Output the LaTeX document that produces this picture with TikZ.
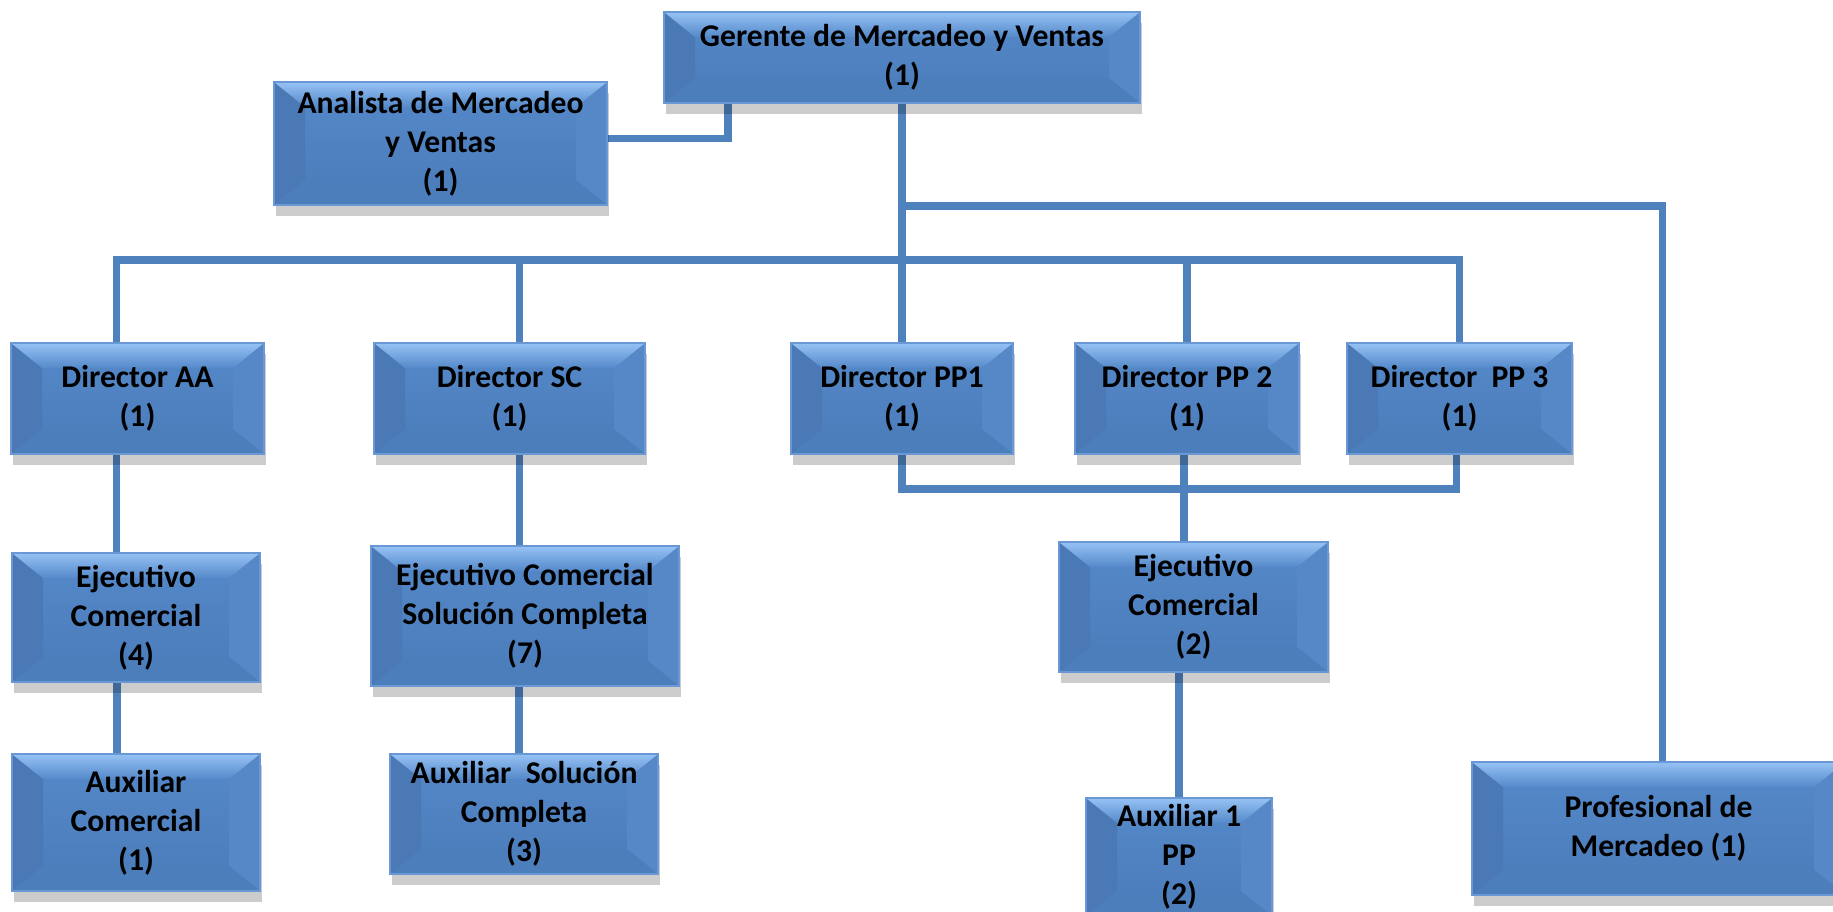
\documentclass[tikz,border=0pt]{standalone}
\usepackage{fontspec}
\setmainfont{Carlito}
\usetikzlibrary{shadows}
\pgfdeclarelayer{bg}
\pgfsetlayers{bg,main}
\definecolor{boxface}{RGB}{79,129,189}
\definecolor{facetop}{RGB}{85,137,201}
\definecolor{facebot}{RGB}{75,123,185}
\definecolor{bevtop}{RGB}{150,194,245}
\definecolor{bevleft}{RGB}{74,121,182}
\definecolor{bevright}{RGB}{86,136,199}
\definecolor{bevbot}{RGB}{77,126,188}
\definecolor{edgeblue}{RGB}{105,152,212}
\definecolor{linkblue}{RGB}{79,129,189}
\newlength{\bevx}
\newlength{\bevy}
\setlength{\bevx}{3.1mm}
\setlength{\bevy}{2.5mm}
\tikzset{
  orgbox/.style={fill=boxface, draw=edgeblue, line width=0.4pt, inner sep=0pt,
    align=center, font=\fontsize{9}{11.1}\selectfont\bfseries,
    drop shadow={shadow xshift=0.15mm, shadow yshift=-1.1mm, opacity=0.2, fill=black},
    path picture={
      \coordinate (pnw) at (path picture bounding box.north west);
      \coordinate (pne) at (path picture bounding box.north east);
      \coordinate (psw) at (path picture bounding box.south west);
      \coordinate (pse) at (path picture bounding box.south east);
      \shade[top color=facetop, bottom color=facebot] (pnw) rectangle (pse);
      \fill[bevleft] (pnw) -- ([shift={(\bevx,-\bevy)}]pnw) -- ([shift={(\bevx,\bevy)}]psw) -- (psw) -- cycle;
      \fill[bevright] (pne) -- ([shift={(-\bevx,-\bevy)}]pne) -- ([shift={(-\bevx,\bevy)}]pse) -- (pse) -- cycle;
      \fill[bevbot] (psw) -- ([shift={(\bevx,\bevy)}]psw) -- ([shift={(-\bevx,\bevy)}]pse) -- (pse) -- cycle;
      \shade[top color=bevtop, bottom color=facetop] (pnw) -- (pne) -- ([shift={(-\bevx,-\bevy)}]pne) -- ([shift={(\bevx,-\bevy)}]pnw) -- cycle;
    }},
  link/.style={draw=linkblue, line width=2.1pt}
}

\begin{document}
\begin{tikzpicture}
        \useasboundingbox (0,0) rectangle (18.33,-9.11);
        \clip (0,0) rectangle (18.33,-9.11);
        % top
        \node (v0) [orgbox, minimum width=4.76cm, minimum height=0.91cm] at (9.020000cm, -0.575000cm) {Gerente de Mercadeo y Ventas\\(1)};
        \node (v1) [orgbox, minimum width=3.33cm, minimum height=1.23cm] at (4.405000cm, -1.435000cm) {Analista de Mercadeo\\y Ventas\\(1)};
        % directores
        \node (v2) [orgbox, minimum width=2.53cm, minimum height=1.11cm] at (1.375000cm, -3.985000cm) {Director AA\\(1)};
        \node (v3) [orgbox, minimum width=2.71cm, minimum height=1.11cm] at (5.095000cm, -3.985000cm) {Director SC\\(1)};
        \node (v4) [orgbox, minimum width=2.22cm, minimum height=1.11cm] at (9.020000cm, -3.985000cm) {Director PP1\\(1)};
        \node (v5) [orgbox, minimum width=2.24cm, minimum height=1.11cm] at (11.870000cm, -3.985000cm) {Director PP 2\\(1)};
        \node (v6) [orgbox, minimum width=2.25cm, minimum height=1.11cm] at (14.595000cm, -3.985000cm) {Director\ \ PP 3\\(1)};
        % ejecutivos
        \node (v7) [orgbox, minimum width=2.48cm, minimum height=1.29cm] at (1.360000cm, -6.175000cm) {Ejecutivo\\Comercial\\(4)};
        \node (v8) [orgbox, minimum width=3.08cm, minimum height=1.40cm] at (5.250000cm, -6.160000cm) {Ejecutivo Comercial\\Solución Completa\\(7)};
        \node (v9) [orgbox, minimum width=2.69cm, minimum height=1.30cm] at (11.935000cm, -6.070000cm) {Ejecutivo\\Comercial\\(2)};
        % auxiliares
        \node (v10) [orgbox, minimum width=2.48cm, minimum height=1.37cm] at (1.360000cm, -8.225000cm) {Auxiliar\\Comercial\\(1)};
        \node (v11) [orgbox, minimum width=2.68cm, minimum height=1.20cm] at (5.240000cm, -8.140000cm) {Auxiliar\ \ Solución\\Completa\\(3)};
        \node (v12) [orgbox, minimum width=1.86cm, minimum height=1.18cm] at (11.790000cm, -8.570000cm) {Auxiliar 1\\PP\\(2)};
        \node (v13) [orgbox, minimum width=3.73cm, minimum height=1.33cm] at (16.585000cm, -8.285000cm) {Profesional de\\Mercadeo (1)};
        \coordinate (b0) at (9.02cm, -2.60cm);
        \coordinate (b1) at (9.02cm, -2.06cm);
        \coordinate (b2) at (11.84cm, -4.89cm);
        \begin{pgfonlayer}{bg}
                \draw[link] ([yshift=0.5mm]v1.east) -| ([xshift=-17.4mm]v0.south);
                \draw[link] (v0.south) -- (v4.north);
                \draw[link] ([xshift=-2.1mm]v2.north) |- (b0) -| (v6.north);
                \draw[link] ([xshift=1mm]v3.north) -- ([xshift=1mm]v3.north |- b0);
                \draw[link] ([yshift=0.4mm]v5.north |- b0) -- (v5.north);
                \draw[link] (b1) -| ([xshift=0.4mm]v13.north);
                \draw[link] (v4.south) |- (b2) -| ([xshift=-0.3mm]v6.south);
                \draw[link] ([xshift=-0.3mm]v5.south) -- ([xshift=-0.3mm]v5.south |- v9.north);
                \draw[link] (v12.north |- v9.south) -- (v12.north);
                \draw[link] ([xshift=-2.1mm]v2.south) -- ([xshift=-2.1mm]v2.south |- v7.north);
                \draw[link] ([xshift=-1.9mm]v7.south) -- ([xshift=-1.9mm]v7.south |- v10.north);
                \draw[link] ([xshift=1mm]v3.south) -- ([xshift=1mm]v3.south |- v8.north);
                \draw[link] ([xshift=-0.6mm]v8.south) -- ([xshift=-0.6mm]v8.south |- v11.north);
        \end{pgfonlayer}
\end{tikzpicture}
\end{document}
